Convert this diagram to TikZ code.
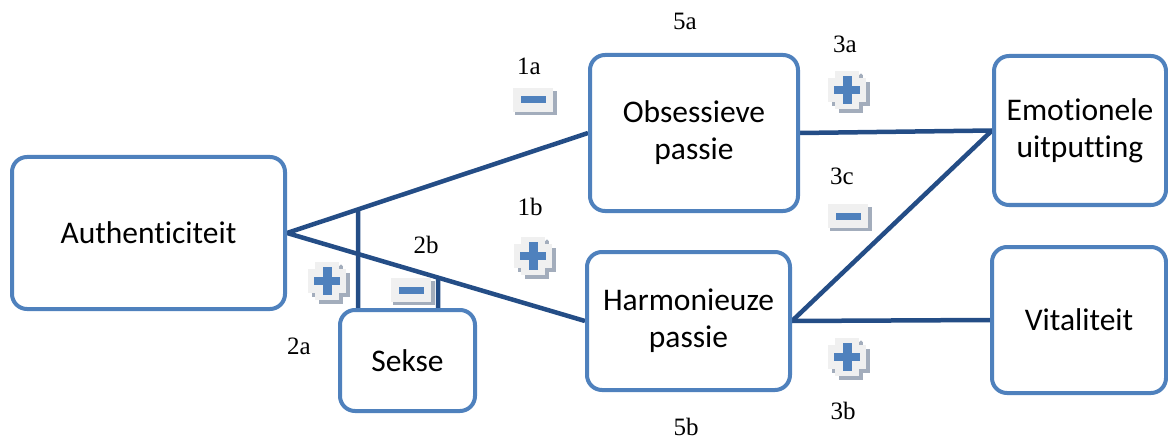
\documentclass[tikz,border=0pt]{standalone}
\usepackage{fontspec}
\setmainfont{Carlito}[Ligatures=NoCommon]
\newfontfamily\numfont{Liberation Serif}
\usetikzlibrary{calc,backgrounds}

\definecolor{boxblue}{HTML}{4F81BD}
\definecolor{linkblue}{HTML}{244D86}
\definecolor{iconbg}{HTML}{F0F0F0}
\definecolor{iconshadow}{HTML}{A3ADBC}

\tikzset{
  concept/.style={draw=boxblue, line width=4pt, rounded corners=15pt, fill=white,
    inner sep=0pt, align=center, font=\fontsize{31.5}{37}\selectfont},
  link/.style={draw=linkblue, line width=4.5pt},
  pathlabel/.style={font=\numfont\fontsize{25}{28}\selectfont, anchor=base, inner sep=0pt},
  pics/minusicon/.style={code={
    \fill[iconshadow] (-18,-9) rectangle (24,15);
    \fill[iconbg] (-20,-12) rectangle (20,12);
    \fill[boxblue] (-12.5,-3.5) rectangle (12.5,3.5);
  }},
  pics/plusicon/.style={code={
    \begin{scope}[shift={(4,4)}]
      \fill[iconshadow] (-19,-12) rectangle (19,12);
      \fill[iconshadow] (-12,-19) rectangle (12,19);
    \end{scope}
    \fill[iconbg] (-19,-12) rectangle (19,12);
    \fill[iconbg] (-12,-19) rectangle (12,19);
    \fill[iconshadow] (14,-15) circle (1.6);
    \fill[boxblue] (-4.5,-14) rectangle (4.5,14);
    \fill[boxblue] (-13,-4) rectangle (13,4);
  }}
}

\begin{document}
\begin{tikzpicture}[x=1pt, y=-1pt]
  \useasboundingbox (0,0) rectangle (1168,441);

  % concept boxes
  \node[concept, minimum width=273, minimum height=152] (auth) at (148.5,233) {Authenticiteit};
  \node[concept, minimum width=208, minimum height=156] (obs) at (694,133) {Obsessieve\\passie};
  \node[concept, minimum width=172, minimum height=149] (emo) at (1080,130.5) {Emotionele\\uitputting};
  \node[concept, minimum width=203, minimum height=138] (harm) at (688.5,321) {Harmonieuze\\passie};
  \node[concept, minimum width=174, minimum height=146] (vit) at (1079,320) {Vitaliteit};
  \node[concept, minimum width=135, minimum height=101] (sekse) at (407.5,360.5) {Sekse};

  % paths between the concepts, kept behind the boxes
  \coordinate (s1) at ($(sekse.north west)+(20,0)$);
  \coordinate (s1up) at ($(s1)+(0,-200)$);
  \coordinate (s2) at ($(sekse.north west)+(100,0)$);
  \coordinate (s2up) at ($(s2)+(0,-200)$);
  \begin{scope}[on background layer]
    \draw[link] (auth.east) -- (obs.west);
    \draw[link] (auth.east) -- (harm.west);
    \draw[link] (obs.east) -- (emo.west);
    \draw[link] (harm.east) -- (emo.west);
    \draw[link] (harm.east) -- (vit.west);
    % moderation by Sekse
    \draw[link] (s1) -- (intersection of auth.east--obs.west and s1--s1up);
    \draw[link] (s2) -- (intersection of auth.east--harm.west and s2--s2up);
  \end{scope}

  % sign icons
  \pic (m1a) at (533,100) {minusicon};
  \pic (p1b) at (533,256) {plusicon};
  \pic (p3a) at (847,90) {plusicon};
  \pic (m3c) at (848,216) {minusicon};
  \pic (p3b) at (847,357) {plusicon};
  \pic (p2a) at (327,281) {plusicon};
  \pic (m2b) at (411,290) {minusicon};

  % path labels
  \node[pathlabel] (l5a) at (685,30) {5a};
  \node[pathlabel] (l1a) at (529,75) {1a};
  \node[pathlabel] (l3a) at (845,53) {3a};
  \node[pathlabel] (l1b) at (530,215) {1b};
  \node[pathlabel] (l3c) at (842,185) {3c};
  \node[pathlabel] (l2b) at (426,253) {2b};
  \node[pathlabel] (l2a) at (299,354) {2a};
  \node[pathlabel] (l3b) at (843,419) {3b};
  \node[pathlabel] (l5b) at (686,435) {5b};
\end{tikzpicture}
\end{document}
